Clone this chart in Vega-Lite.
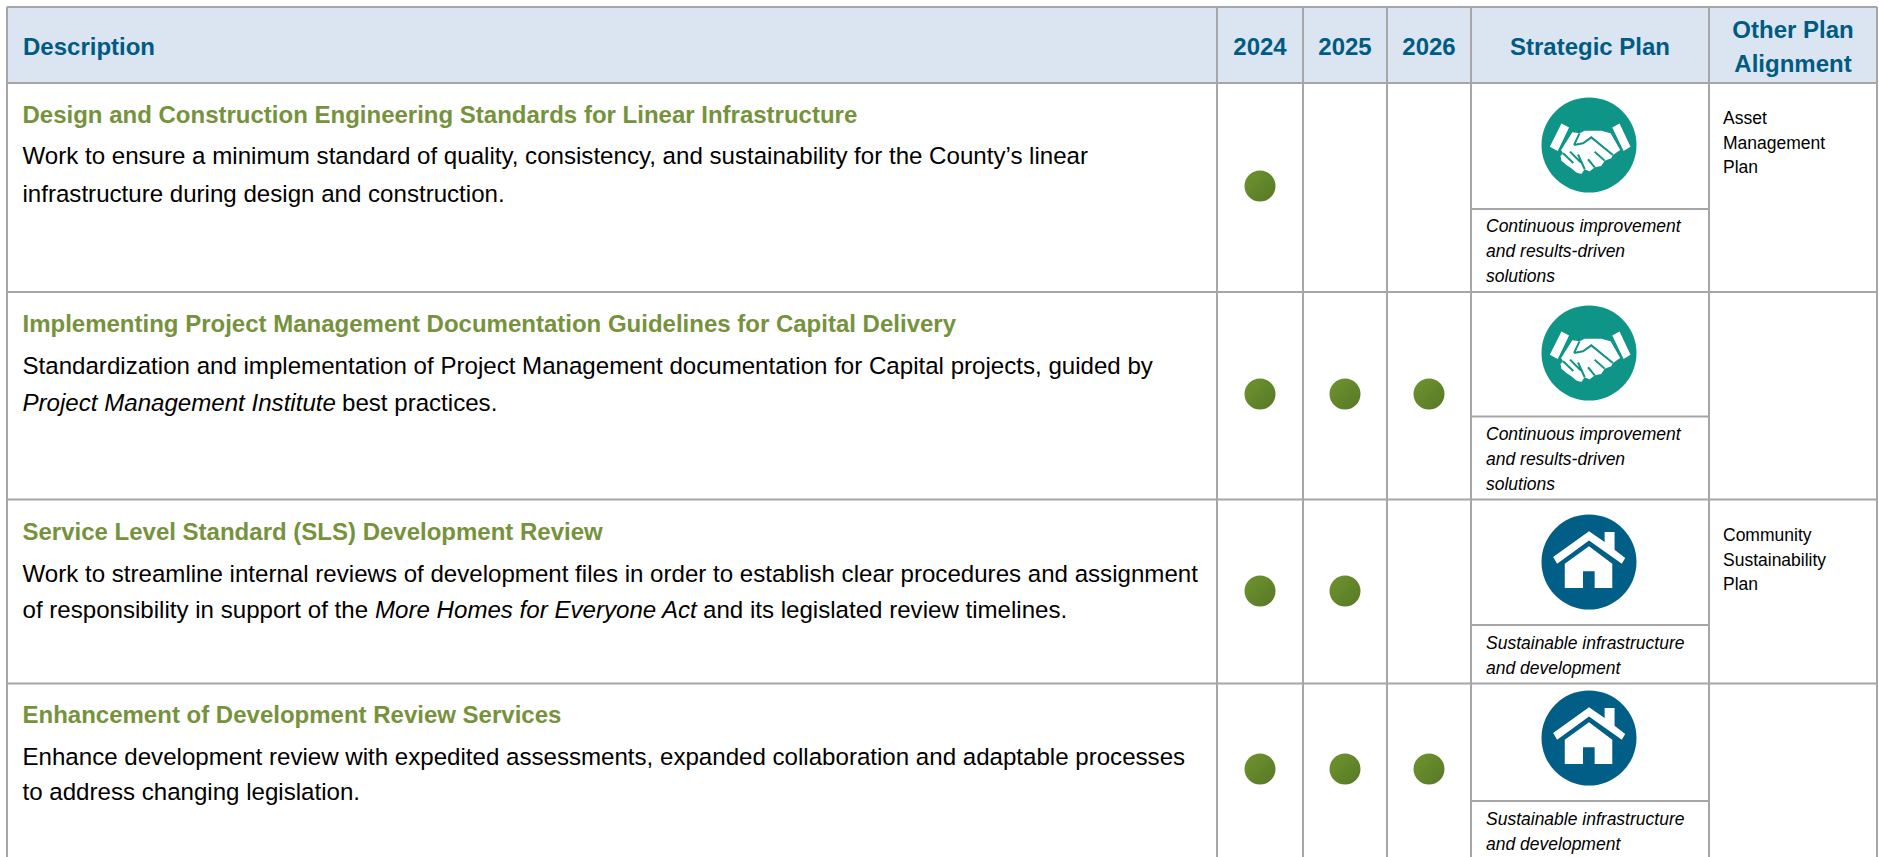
{
"$schema":"https://vega.github.io/schema/vega-lite/v6.json",
"width":1879,"height":857,"padding":0,"autosize":{"type":"none"},"background":"white",
"config":{"view":{"stroke":null},"text":{"font":"Liberation Sans"}},
"resolve":{"scale":{"x":"independent","y":"independent"}},
"datasets":{
"header":[{"c0":0,"c1":6,"b0":0,"b1":1}],
"headerText":[{"col":1,"line":1.5,"text":"2024"},{"col":2,"line":1.5,"text":"2025"},{"col":3,"line":1.5,"text":"2026"},{"col":4,"line":1.5,"text":"Strategic Plan"},{"col":5,"line":1,"text":"Other Plan"},{"col":5,"line":2,"text":"Alignment"}],
"hlines":[{"b":0,"c0":0,"c1":6},{"b":1,"c0":0,"c1":6},{"b":2,"c0":0,"c1":6},{"b":3,"c0":0,"c1":6},{"b":4,"c0":0,"c1":6}],
"vlines":[{"c":0,"b0":0,"b1":5},{"c":1,"b0":0,"b1":5},{"c":2,"b0":0,"b1":5},{"c":3,"b0":0,"b1":5},{"c":4,"b0":0,"b1":5},{"c":5,"b0":0,"b1":5},{"c":6,"b0":0,"b1":5}],
"items":[
{"row":1,"title":"Design and Construction Engineering Standards for Linear Infrastructure","line1":"Work to ensure a minimum standard of quality, consistency, and sustainability for the County’s linear","line2":"infrastructure during design and construction.","plan":"Continuous improvement and results-driven solutions","caption":"Continuous improvement\nand results-driven\nsolutions","other":"Asset\nManagement\nPlan"},
{"row":2,"title":"Implementing Project Management Documentation Guidelines for Capital Delivery","line1":"Standardization and implementation of Project Management documentation for Capital projects, guided by","line2":"","italic":"Project Management Institute","tail":"best practices.","plan":"Continuous improvement and results-driven solutions","caption":"Continuous improvement\nand results-driven\nsolutions"},
{"row":3,"title":"Service Level Standard (SLS) Development Review","line1":"Work to streamline internal reviews of development files in order to establish clear procedures and assignment","line2":"of responsibility in support of the","italic":"More Homes for Everyone Act","tail":"and its legislated review timelines.","plan":"Sustainable infrastructure and development","caption":"Sustainable infrastructure\nand development","other":"Community\nSustainability\nPlan"},
{"row":4,"title":"Enhancement of Development Review Services","line1":"Enhance development review with expedited assessments, expanded collaboration and adaptable processes","line2":"to address changing legislation.","plan":"Sustainable infrastructure and development","caption":"Sustainable infrastructure\nand development"}
],
"schedule":[{"row":1,"year":2024},{"row":2,"year":2024},{"row":2,"year":2025},{"row":2,"year":2026},{"row":3,"year":2024},{"row":3,"year":2025},{"row":4,"year":2024},{"row":4,"year":2025},{"row":4,"year":2026}]
},
"layer":[
{"data":{"name":"header"},"mark":{"type":"rect","fill":"#dbe5f1"},"encoding":{
"x":{"field":"c0","type":"quantitative","axis":null,"scale":{"domain":[0,1,2,3,4,5,6],"range":[7,1217,1303,1387,1471,1709,1877]}},"x2":{"field":"c1"},
"y":{"field":"b0","type":"quantitative","axis":null,"scale":{"domain":[0,1,2,3,4,5],"range":[7,83,292,499.5,683.5,857]}},"y2":{"field":"b1"}}},
{"data":{"name":"hlines"},"mark":{"type":"rule","stroke":"#a6a6a6","strokeWidth":2},"encoding":{
"x":{"field":"c0","type":"quantitative","axis":null,"scale":{"domain":[0,1,2,3,4,5,6],"range":[7,1217,1303,1387,1471,1709,1877]}},"x2":{"field":"c1"},
"y":{"field":"b","type":"quantitative","axis":null,"scale":{"domain":[0,1,2,3,4,5],"range":[7,83,292,499.5,683.5,857]}}}},
{"data":{"name":"vlines"},"mark":{"type":"rule","stroke":"#a6a6a6","strokeWidth":2},"encoding":{
"x":{"field":"c","type":"quantitative","axis":null,"scale":{"domain":[0,1,2,3,4,5,6],"range":[7,1217,1303,1387,1471,1709,1877]}},
"y":{"field":"b0","type":"quantitative","axis":null,"scale":{"domain":[0,1,2,3,4,5],"range":[7,83,292,499.5,683.5,857]}},"y2":{"field":"b1"}}},
{"data":{"name":"items"},"mark":{"type":"rule","stroke":"#a6a6a6","strokeWidth":2},"encoding":{
"x":{"datum":4,"type":"quantitative","axis":null,"scale":{"domain":[4,5],"range":[1471,1709]}},"x2":{"datum":5},
"y":{"field":"row","type":"quantitative","axis":null,"scale":{"domain":[1,2,3,4],"range":[209,416.5,625,801]}}}},
{"data":{"values":[{"col":0,"text":"Description"}]},"mark":{"type":"text","align":"left","baseline":"alphabetic","dx":16,"fontSize":24,"fontWeight":"bold","fill":"#005b82"},"encoding":{
"x":{"field":"col","type":"quantitative","axis":null,"scale":{"domain":[0,1],"range":[7,1217]}},
"y":{"datum":1.5,"type":"quantitative","axis":null,"scale":{"domain":[1,2],"range":[38,72]}},
"text":{"field":"text"}}},
{"data":{"name":"headerText"},"mark":{"type":"text","align":"center","baseline":"alphabetic","fontSize":24,"fontWeight":"bold","fill":"#005b82"},"encoding":{
"x":{"field":"col","type":"quantitative","axis":null,"scale":{"domain":[1,2,3,4,5],"range":[1260,1345,1429,1590,1793]}},
"y":{"field":"line","type":"quantitative","axis":null,"scale":{"domain":[1,2],"range":[38,72]}},
"text":{"field":"text"}}},
{"data":{"name":"items"},"mark":{"type":"text","align":"left","baseline":"alphabetic","dx":15.5,"fontSize":24,"fontWeight":"bold","fill":"#76923c"},"encoding":{
"x":{"datum":0,"type":"quantitative","axis":null,"scale":{"domain":[0,1],"range":[7,1217]}},
"y":{"field":"row","type":"quantitative","axis":null,"scale":{"domain":[1,2,3,4],"range":[123,332,540,723]}},
"text":{"field":"title"}}},
{"data":{"name":"items"},"mark":{"type":"text","align":"left","baseline":"alphabetic","dx":15.5,"fontSize":24.1,"fill":"#000000"},"encoding":{
"x":{"datum":0,"type":"quantitative","axis":null,"scale":{"domain":[0,1],"range":[7,1217]}},
"y":{"field":"row","type":"quantitative","axis":null,"scale":{"domain":[1,2,3,4],"range":[164,374,582,765]}},
"text":{"field":"line1"}}},
{"data":{"name":"items"},"mark":{"type":"text","align":"left","baseline":"alphabetic","dx":15.5,"fontSize":24.1,"fill":"#000000"},"encoding":{
"x":{"datum":0,"type":"quantitative","axis":null,"scale":{"domain":[0,1],"range":[7,1217]}},
"y":{"field":"row","type":"quantitative","axis":null,"scale":{"domain":[1,2,3,4],"range":[202,411,618,800]}},
"text":{"field":"line2"}}},
{"data":{"name":"items"},"transform":[{"filter":"datum.italic"}],"mark":{"type":"text","align":"left","baseline":"alphabetic","fontSize":24.1,"fontStyle":"italic","fill":"#000000"},"encoding":{
"x":{"field":"row","type":"quantitative","axis":null,"scale":{"domain":[2,3],"range":[22.5,375]}},
"y":{"field":"row","type":"quantitative","axis":null,"scale":{"domain":[2,3],"range":[411,618]}},
"text":{"field":"italic"}}},
{"data":{"name":"items"},"transform":[{"filter":"datum.tail"}],"mark":{"type":"text","align":"left","baseline":"alphabetic","fontSize":24.1,"fill":"#000000"},"encoding":{
"x":{"field":"row","type":"quantitative","axis":null,"scale":{"domain":[2,3],"range":[342,703]}},
"y":{"field":"row","type":"quantitative","axis":null,"scale":{"domain":[2,3],"range":[411,618]}},
"text":{"field":"tail"}}},
{"data":{"name":"schedule"},"mark":{"type":"point","shape":"circle","filled":true,"opacity":1,"size":961,"fill":{"gradient":"linear","x1":0,"y1":0,"x2":1,"y2":1,"stops":[{"offset":0,"color":"#70942f"},{"offset":1,"color":"#567826"}]}},"encoding":{
"x":{"field":"year","type":"quantitative","axis":null,"scale":{"domain":[2024,2025,2026],"range":[1260,1345,1429]}},
"y":{"field":"row","type":"quantitative","axis":null,"scale":{"domain":[1,2,3,4],"range":[186,394,591,769]}}}},
{"data":{"name":"items"},"mark":{"type":"point","shape":"circle","filled":true,"opacity":1,"size":9025},"encoding":{
"x":{"datum":4,"type":"quantitative","axis":null,"scale":{"domain":[4,5],"range":[1589,1827]}},
"y":{"field":"row","type":"quantitative","axis":null,"scale":{"domain":[1,2,3,4],"range":[145,353,562,738]}},
"color":{"field":"plan","type":"nominal","legend":null,"scale":{"domain":["Continuous improvement and results-driven solutions","Sustainable infrastructure and development"],"range":["#0f9488","#005e87"]}}}},
{"data":{"name":"items"},"transform":[{"filter":"datum.row>2"}],"mark":{"type":"point","filled":true,"opacity":1,"size":9025,"fill":"#ffffff","shape":"M-0.755,-0.105L0,-0.65L0.329,-0.42L0.329,-0.63L0.538,-0.63L0.538,-0.259L0.762,-0.084L0.692,0.035L0,-0.455L-0.671,0.035ZM-0.51,0.035L0,-0.329L0.49,0.035L0.49,0.545L0.119,0.545L0.119,0.196L-0.126,0.196L-0.126,0.545L-0.51,0.545Z"},"encoding":{
"x":{"datum":4,"type":"quantitative","axis":null,"scale":{"domain":[4,5],"range":[1589,1827]}},
"y":{"field":"row","type":"quantitative","axis":null,"scale":{"domain":[1,2,3,4],"range":[145,353,562,738]}}}},
{"data":{"name":"items"},"transform":[{"filter":"datum.row<3"}],"mark":{"type":"point","filled":true,"opacity":1,"size":9025,"fill":"#ffffff","shape":"M-0.35,-0.266L-0.196,-0.245L-0.091,-0.301L0.259,-0.301L0.455,-0.245L0.657,0.105L0.503,0.21L0.469,0.28L0.329,0.329L0.259,0.441L0.119,0.469L0.014,0.559L-0.091,0.51L-0.161,0.608L-0.266,0.58L-0.371,0.49L-0.476,0.42L-0.58,0.329L-0.601,0.231L-0.545,0.175L-0.587,0.105ZM-0.58,-0.455L-0.42,-0.371L-0.657,0.126L-0.825,0.035ZM0.643,-0.455L0.49,-0.371L0.727,0.126L0.874,0.035Z"},"encoding":{
"x":{"datum":4,"type":"quantitative","axis":null,"scale":{"domain":[4,5],"range":[1589,1827]}},
"y":{"field":"row","type":"quantitative","axis":null,"scale":{"domain":[1,2,3,4],"range":[145,353,562,738]}}}},
{"data":{"name":"items"},"transform":[{"filter":"datum.row<3"}],"mark":{"type":"point","filled":false,"opacity":1,"size":9025,"stroke":"#0f9488","strokeWidth":2,"shape":"M-0.315,0L-0.2,-0.245M-0.315,0L-0.126,-0.035L0.049,-0.161L0.503,0.21M0.329,0.329L0.119,0.14M0.119,0.469L-0.02,0.3M-0.545,0.175L-0.33,0.38M-0.4,0.14L-0.17,0.37M-0.23,0.2L-0.09,0.51"},"encoding":{
"x":{"datum":4,"type":"quantitative","axis":null,"scale":{"domain":[4,5],"range":[1589,1827]}},
"y":{"field":"row","type":"quantitative","axis":null,"scale":{"domain":[1,2,3,4],"range":[145,353,562,738]}}}},
{"data":{"name":"items"},"mark":{"type":"text","align":"left","baseline":"alphabetic","lineBreak":"\n","lineHeight":25,"dx":15,"fontSize":17.5,"fontStyle":"italic","fill":"#000000"},"encoding":{
"x":{"datum":4,"type":"quantitative","axis":null,"scale":{"domain":[4,5],"range":[1471,1709]}},
"y":{"field":"row","type":"quantitative","axis":null,"scale":{"domain":[1,2,3,4],"range":[232,440,649,825]}},
"text":{"field":"caption"}}},
{"data":{"name":"items"},"transform":[{"filter":"datum.other"}],"mark":{"type":"text","align":"left","baseline":"alphabetic","lineBreak":"\n","lineHeight":24.5,"dx":14,"fontSize":17.5,"fill":"#000000"},"encoding":{
"x":{"datum":5,"type":"quantitative","axis":null,"scale":{"domain":[5,6],"range":[1709,1877]}},
"y":{"field":"row","type":"quantitative","axis":null,"scale":{"domain":[1,3],"range":[124,541]}},
"text":{"field":"other"}}}
]
}
